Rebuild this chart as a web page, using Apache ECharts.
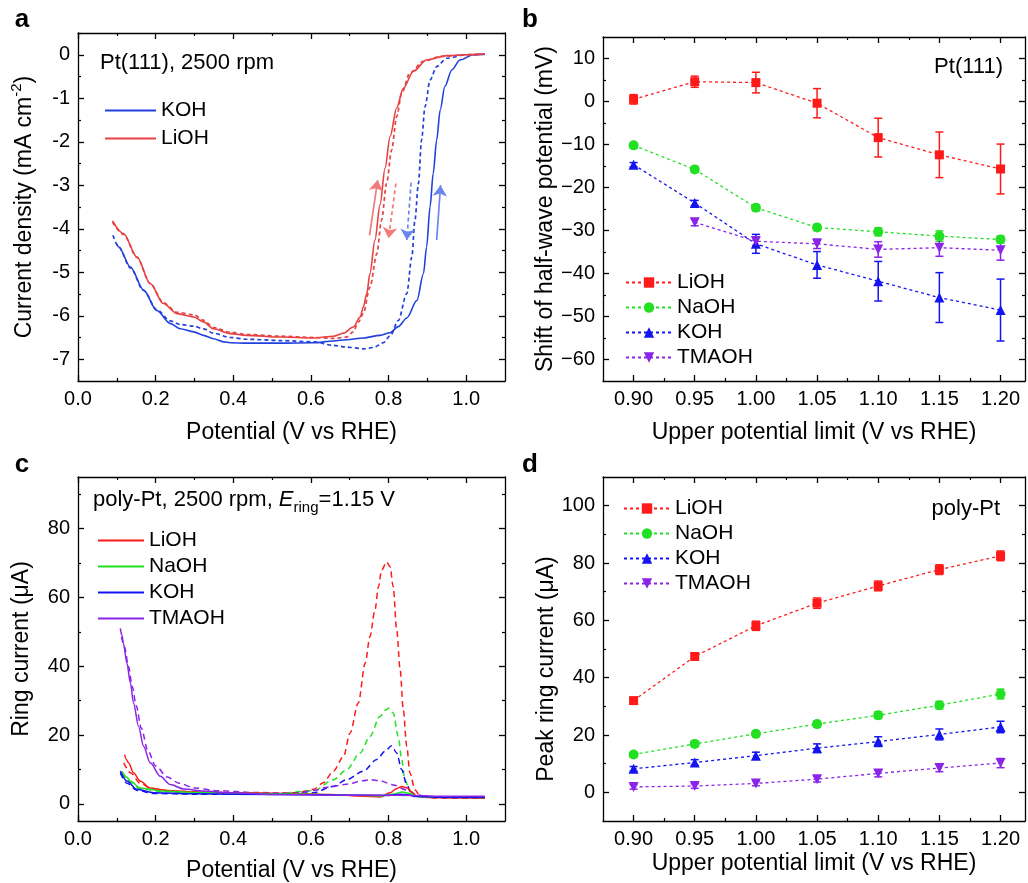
<!DOCTYPE html>
<html><head><meta charset="utf-8">
<script src="https://cdn.jsdelivr.net/npm/echarts@6/dist/echarts.min.js"></script>
<style>html,body{margin:0;padding:0;background:#fff}#c{width:1028px;height:883px}</style>
</head><body><div id="c"></div>
<script>
const FONT = '"Liberation Sans", Arial, Helvetica, sans-serif';

// ---------- Panel a: Pt(111) CVs (V, mA cm-2) ----------
const aKOHsolid = [[0.100,-4.35],[0.105,-4.42],[0.135,-4.88],[0.169,-5.41],[0.203,-5.88],[0.238,-6.18],[0.263,-6.30],[0.298,-6.37],[0.323,-6.45],[0.349,-6.53],[0.375,-6.60],[0.392,-6.62],[0.435,-6.63],[0.521,-6.63],[0.607,-6.62],[0.658,-6.58],[0.692,-6.55],[0.735,-6.51],[0.778,-6.45],[0.804,-6.39],[0.825,-6.25],[0.847,-6.05],[0.873,-5.65],[0.890,-5.03],[0.898,-4.42],[0.907,-3.49],[0.915,-2.73],[0.924,-1.96],[0.933,-1.27],[0.945,-0.73],[0.963,-0.35],[0.984,-0.12],[1.018,0.0],[1.048,0.02]];
const aKOHdash = [[0.090,-4.15],[0.105,-4.42],[0.135,-4.90],[0.169,-5.42],[0.203,-5.86],[0.238,-6.12],[0.263,-6.20],[0.298,-6.24],[0.323,-6.30],[0.349,-6.40],[0.392,-6.50],[0.435,-6.54],[0.521,-6.57],[0.607,-6.60],[0.658,-6.68],[0.692,-6.72],[0.735,-6.76],[0.761,-6.73],[0.787,-6.62],[0.805,-6.45],[0.825,-6.11],[0.847,-5.49],[0.860,-4.65],[0.868,-3.80],[0.877,-2.96],[0.885,-1.96],[0.894,-1.19],[0.907,-0.58],[0.924,-0.27],[0.950,-0.08],[1.001,0.0],[1.048,0.01]];
const aLiOHsolid = [[0.089,-3.82],[0.117,-4.11],[0.152,-4.65],[0.186,-5.26],[0.220,-5.72],[0.255,-5.95],[0.298,-6.03],[0.323,-6.14],[0.349,-6.30],[0.392,-6.41],[0.435,-6.45],[0.521,-6.49],[0.607,-6.51],[0.658,-6.47],[0.684,-6.40],[0.709,-6.26],[0.727,-6.03],[0.735,-5.80],[0.744,-5.49],[0.752,-5.03],[0.765,-4.26],[0.778,-3.45],[0.791,-2.61],[0.804,-1.88],[0.821,-1.22],[0.838,-0.77],[0.864,-0.38],[0.898,-0.12],[0.950,-0.02],[1.001,0.0],[1.048,0.02]];
const aLiOHdash = [[0.089,-3.85],[0.117,-4.13],[0.152,-4.66],[0.186,-5.26],[0.220,-5.70],[0.255,-5.92],[0.298,-5.98],[0.323,-6.10],[0.349,-6.27],[0.392,-6.38],[0.435,-6.43],[0.521,-6.47],[0.607,-6.50],[0.658,-6.52],[0.692,-6.49],[0.709,-6.37],[0.722,-6.15],[0.735,-5.95],[0.752,-5.34],[0.770,-4.57],[0.782,-3.80],[0.795,-2.96],[0.808,-2.19],[0.821,-1.42],[0.834,-0.88],[0.855,-0.42],[0.890,-0.15],[0.933,-0.04],[1.000,0.0],[1.048,0.02]];
// sweep-direction arrows (data coords: start, end)
const aArrowLiSolid = [[0.751,-4.15],[0.772,-2.88]];
const aArrowLiDash  = [[0.819,-2.96],[0.800,-4.22]];
const aArrowKDash   = [[0.858,-2.94],[0.847,-4.26]];
const aArrowKSolid  = [[0.924,-4.26],[0.934,-3.00]];
const aXTickVals = [0,0.2,0.4,0.6,0.8,1.0];
const aXTickLabels = ['0.0','0.2','0.4','0.6','0.8','1.0'];
const aXMinor = [0.1,0.3,0.5,0.7,0.9];
const aYTickVals = [0,-1,-2,-3,-4,-5,-6,-7];
const aYTickLabels = ['0','-1','-2','-3','-4','-5','-6','-7'];
const aYMinor = [0.5,-0.5,-1.5,-2.5,-3.5,-4.5,-5.5,-6.5];

// ---------- Panel b: shift of half-wave potential (mV) ----------
const bX = [0.90,0.95,1.00,1.05,1.10,1.15,1.20];
const bLiOH = [0.5,4.6,4.4,-0.4,-8.4,-12.4,-15.7];
const bLiOHerr = [1.1,1.3,2.4,3.4,4.5,5.3,5.8];
const bNaOH = [-10.2,-15.8,-24.7,-29.3,-30.3,-31.3,-32.1];
const bNaOHerr = [0.6,0.7,0.7,0.7,0.9,1.2,0.8];
const bKOH = [-14.7,-23.6,-33.1,-38.0,-41.8,-45.6,-48.5];
const bKOHerr = [0.5,0.6,2.2,3.1,4.6,5.8,7.2];
const bTMAOH = [null,-28.1,-32.5,-33.1,-34.4,-34.0,-34.6];
const bTMAOHerr = [null,0.8,1.0,1.1,1.8,2.0,2.3];
const bXTickVals = [0.90,0.95,1.00,1.05,1.10,1.15,1.20];
const bXTickLabels = ['0.90','0.95','1.00','1.05','1.10','1.15','1.20'];
const bXMinor = [0.925,0.975,1.025,1.075,1.125,1.175];
const bYTickVals = [10,0,-10,-20,-30,-40,-50,-60];
const bYTickLabels = ['10','0','\u221210','\u221220','\u221230','\u221240','\u221250','\u221260'];
const bYMinor = [5,-5,-15,-25,-35,-45,-55];

// ---------- Panel c: ring current (uA) ----------
const cLiOHsolid = [[0.120,14.3],[0.125,12.8],[0.130,11.9],[0.143,9.0],[0.160,6.6],[0.186,4.6],[0.229,3.9],[0.306,3.4],[0.435,3.2],[0.564,3.0],[0.649,2.7],[0.735,2.2],[0.778,2.0],[0.804,3.2],[0.820,4.4],[0.834,5.0],[0.848,4.6],[0.860,3.4],[0.872,2.2],[0.907,1.8],[1.048,1.7]];
const cLiOHdash = [[0.118,11.9],[0.135,9.0],[0.160,6.0],[0.190,4.4],[0.250,3.6],[0.350,3.2],[0.450,3.0],[0.564,3.2],[0.607,4.2],[0.632,6.1],[0.658,9.5],[0.684,13.8],[0.701,20.6],[0.722,29.3],[0.740,40.9],[0.752,48.6],[0.765,56.3],[0.774,63.1],[0.782,67.9],[0.795,70.3],[0.804,68.9],[0.812,63.1],[0.821,50.5],[0.830,38.9],[0.838,27.3],[0.847,16.7],[0.855,9.0],[0.868,4.1],[0.881,2.2],[0.920,1.7],[1.048,1.6]];
const cNaOHsolid = [[0.113,9.5],[0.125,7.8],[0.135,6.6],[0.160,4.6],[0.220,3.7],[0.300,3.3],[0.450,3.0],[0.600,2.8],[0.720,2.5],[0.780,2.3],[0.810,2.8],[0.835,3.4],[0.855,3.0],[0.872,2.2],[0.920,1.9],[1.048,1.8]];
const cNaOHdash = [[0.113,9.0],[0.135,6.3],[0.160,4.4],[0.220,3.5],[0.350,3.1],[0.500,2.9],[0.607,3.8],[0.658,7.0],[0.692,9.9],[0.727,14.8],[0.752,19.6],[0.778,25.4],[0.791,27.2],[0.801,27.8],[0.812,26.4],[0.825,19.6],[0.834,12.8],[0.842,7.0],[0.855,3.7],[0.872,2.2],[0.920,1.8],[1.048,1.7]];
const cKOHsolid = [[0.109,9.5],[0.126,6.6],[0.152,4.2],[0.195,3.2],[0.300,2.9],[0.500,2.7],[0.700,2.5],[0.800,2.4],[0.830,2.8],[0.850,2.6],[0.870,2.1],[0.950,1.9],[1.048,1.9]];
const cKOHdash = [[0.109,9.0],[0.126,6.0],[0.152,3.9],[0.195,3.0],[0.300,2.8],[0.500,2.8],[0.607,3.2],[0.658,5.1],[0.692,7.0],[0.735,9.5],[0.770,12.9],[0.791,15.3],[0.808,16.9],[0.821,14.8],[0.834,9.9],[0.847,5.5],[0.859,3.1],[0.872,2.2],[0.950,1.8],[1.048,1.7]];
const cTMAOHsolid = [[0.109,51.0],[0.113,49.0],[0.117,46.7],[0.126,40.9],[0.135,35.1],[0.143,29.3],[0.156,22.5],[0.169,16.7],[0.186,11.9],[0.212,8.0],[0.238,5.6],[0.272,4.3],[0.323,3.7],[0.392,3.2],[0.521,2.7],[0.649,2.5],[0.778,2.5],[0.864,2.4],[0.950,2.2],[1.048,2.2]];
const cTMAOHdash = [[0.112,48.5],[0.120,45.5],[0.130,40.0],[0.140,34.0],[0.150,28.5],[0.163,22.0],[0.180,15.5],[0.200,11.0],[0.230,7.8],[0.260,6.0],[0.300,4.6],[0.360,3.8],[0.450,3.3],[0.560,3.0],[0.606,3.9],[0.649,4.9],[0.692,5.7],[0.735,6.7],[0.752,7.0],[0.778,6.7],[0.812,5.5],[0.847,4.0],[0.872,2.6],[0.907,2.0],[1.048,1.9]];
const cYTickVals = [0,20,40,60,80];
const cYTickLabels = ['0','20','40','60','80'];
const cYMinor = [10,30,50,70,90];

// ---------- Panel d: peak ring current (uA) ----------
const dLiOH = [32.0,47.4,58.1,66.0,72.0,77.7,82.5];
const dLiOHerr = [0.8,0.8,1.6,1.8,1.7,1.7,1.7];
const dNaOH = [13.2,16.9,20.4,23.8,26.9,30.4,34.3];
const dNaOHerr = [0.8,0.9,0.9,1.0,1.2,1.3,1.7];
const dKOH = [8.2,10.4,12.8,15.4,17.7,20.2,22.8];
const dKOHerr = [0.8,1.0,1.2,1.5,1.7,1.9,2.0];
const dTMAOH = [1.9,2.2,3.1,4.6,6.6,8.5,10.2];
const dTMAOHerr = [0.8,0.8,0.8,1.0,1.2,1.3,1.6];
const dYTickVals = [0,20,40,60,80,100];
const dYTickLabels = ['0','20','40','60','80','100'];
const dYMinor = [10,30,50,70,90];

// ---------- colours ----------
const C_A_BLUE = '#2240de', C_A_RED = '#e84141';
const C_A_BLUE_ARROW = '#6b86ec', C_A_RED_ARROW = '#f07b7b';
const C = {LiOH:'#ff1a1a', NaOH:'#22e022', KOH:'#1414f0', TMAOH:'#8a24e8'};

// ---------- builders ----------
const grids = [], xAxes = [], yAxes = [];
function fmtFrom(vals, labels){
  return v => { const i = vals.findIndex(t => Math.abs(t - v) < 1e-7); return i < 0 ? '' : labels[i]; };
}
function mainAxis(grid, pos, spec, primary){
  const o = {
    type:'value', gridIndex:grid, position:pos, min:spec.min, max:spec.max,
    axisLine:{show:true, onZero:false, lineStyle:{color:'#000', width:1.3}},
    axisTick:{show:true, inside:true, length:6, customValues:spec.major, lineStyle:{color:'#000', width:1.3}},
    axisLabel: primary ? {show:true, customValues:spec.major, formatter:fmtFrom(spec.major, spec.labels), fontSize:20, color:'#000', fontFamily:FONT, margin:8} : {show:false},
    splitLine:{show:false}
  };
  if (primary && spec.name){
    o.name = spec.name; o.nameLocation = 'middle'; o.nameGap = spec.nameGap;
    o.nameTextStyle = {fontSize:23, color:'#000', fontFamily:FONT, rich: spec.rich || undefined, padding: spec.namePad || 0};
  }
  return o;
}
function minorAxis(grid, pos, spec){
  return {type:'value', gridIndex:grid, position:pos, min:spec.min, max:spec.max,
    axisLine:{show:false, onZero:false},
    axisTick:{show:true, inside:true, length:3, customValues:spec.minor, lineStyle:{color:'#000', width:1.2}},
    axisLabel:{show:false}, splitLine:{show:false}};
}
function addPanel(rect, xs, ys){
  const gMain = grids.length; grids.push(Object.assign({outerBoundsMode:'none', containLabel:false}, rect));
  const gMinor = grids.length; grids.push(Object.assign({outerBoundsMode:'none', containLabel:false}, rect));
  const xi = xAxes.length;
  xAxes.push(mainAxis(gMain,'bottom',xs,true), mainAxis(gMain,'top',xs,false), minorAxis(gMinor,'bottom',xs), minorAxis(gMinor,'top',xs));
  const yi = yAxes.length;
  yAxes.push(mainAxis(gMain,'left',ys,true), mainAxis(gMain,'right',ys,false), minorAxis(gMinor,'left',ys), minorAxis(gMinor,'right',ys));
  return {xi, yi};
}

const pA = addPanel({left:78, top:33, width:427, height:348},
  {min:0, max:1.1, major:aXTickVals, labels:aXTickLabels, minor:aXMinor, name:'Potential (V vs RHE)', nameGap:40},
  {min:-7.5, max:0.5, major:aYTickVals, labels:aYTickLabels, minor:aYMinor, name:'{t|Current density (mA cm}{s|-2}{t|)}', nameGap:42,
   rich:{t:{fontSize:23, fontFamily:FONT, color:'#000', lineHeight:27, verticalAlign:'bottom'}, s:{fontSize:15, fontFamily:FONT, color:'#000', lineHeight:15, verticalAlign:'top'}}});
const pB = addPanel({left:603, top:37, width:422, height:344},
  {min:0.875, max:1.22, major:bXTickVals, labels:bXTickLabels, minor:bXMinor, name:'Upper potential limit (V vs RHE)', nameGap:40},
  {min:-65, max:15, major:bYTickVals, labels:bYTickLabels, minor:bYMinor, name:'Shift of half-wave potential (mV)', nameGap:45});
const pC = addPanel({left:78, top:477, width:427, height:344},
  {min:0, max:1.1, major:aXTickVals, labels:aXTickLabels, minor:aXMinor, name:'Potential (V vs RHE)', nameGap:38},
  {min:-5, max:95, major:cYTickVals, labels:cYTickLabels, minor:cYMinor, name:'Ring current (\u03bcA)', nameGap:45});
const pD = addPanel({left:603, top:477, width:422, height:344},
  {min:0.875, max:1.22, major:bXTickVals, labels:bXTickLabels, minor:bXMinor, name:'Upper potential limit (V vs RHE)', nameGap:31},
  {min:-10, max:110, major:dYTickVals, labels:dYTickLabels, minor:dYMinor, name:'Peak ring current (\u03bcA)', nameGap:45, namePad:[0,40,0,0]});

const series = [];
function curve(p, name, data, color, dashed, dash, width){
  series.push({name, type:'line', xAxisIndex:p.xi, yAxisIndex:p.yi, data, symbol:'none', showSymbol:false,
    smooth:0.3, smoothMonotone:'x', silent:true, animation:false,
    itemStyle:{color}, lineStyle:{color, width:width||1.6, type: dashed ? dash : 'solid'}, z:2});
}
function arrow(p, coords, color, dashed){
  series.push({type:'lines', coordinateSystem:'cartesian2d', xAxisIndex:p.xi, yAxisIndex:p.yi, silent:true,
    symbol:['none','arrow'], symbolSize:11, animation:false,
    lineStyle:{color, width:1.7, opacity:1, type: dashed ? [4,3] : 'solid'},
    data:[{coords}] , z:3});
}
function errRender(color){
  return function(params, api){
    const x = api.value(0), y = api.value(1), e = api.value(2);
    const hi = api.coord([x, y + e]), lo = api.coord([x, y - e]);
    const cap = 4, st = {stroke:color, lineWidth:1.5};
    return {type:'group', children:[
      {type:'line', shape:{x1:hi[0], y1:hi[1], x2:lo[0], y2:lo[1]}, style:st},
      {type:'line', shape:{x1:hi[0]-cap, y1:hi[1], x2:hi[0]+cap, y2:hi[1]}, style:st},
      {type:'line', shape:{x1:lo[0]-cap, y1:lo[1], x2:lo[0]+cap, y2:lo[1]}, style:st}
    ]};
  };
}
function points(p, name, xs, vals, errs, color, symbol, size, rot){
  const data = [], edata = [];
  xs.forEach((x, i) => { if (vals[i] != null){ data.push([x, vals[i]]); if (errs[i] != null) edata.push([x, vals[i], errs[i]]); } });
  series.push({type:'custom', xAxisIndex:p.xi, yAxisIndex:p.yi, renderItem:errRender(color), data:edata, silent:true, animation:false, z:2, encode:{x:0, y:1}});
  series.push({name, type:'line', xAxisIndex:p.xi, yAxisIndex:p.yi, data, symbol, symbolSize:size, symbolRotate:rot||0, showSymbol:true,
    silent:true, animation:false, itemStyle:{color, opacity:1}, lineStyle:{color, width:1.3, type:[3,3]}, z:3});
}

// panel a
curve(pA, 'KOH_a_d', aKOHdash, C_A_BLUE, true, [4,3], 1.7);
curve(pA, 'KOH_a', aKOHsolid, C_A_BLUE, false);
curve(pA, 'LiOH_a_d', aLiOHdash, C_A_RED, true, [4,3], 1.7);
curve(pA, 'LiOH_a', aLiOHsolid, C_A_RED, false);
arrow(pA, aArrowLiSolid, C_A_RED_ARROW, false);
arrow(pA, aArrowLiDash, C_A_RED_ARROW, true);
arrow(pA, aArrowKDash, C_A_BLUE_ARROW, true);
arrow(pA, aArrowKSolid, C_A_BLUE_ARROW, false);

// panel b
points(pB, 'LiOH_b', bX, bLiOH, bLiOHerr, C.LiOH, 'rect', 9);
points(pB, 'NaOH_b', bX, bNaOH, bNaOHerr, C.NaOH, 'circle', 10);
points(pB, 'KOH_b', bX, bKOH, bKOHerr, C.KOH, 'triangle', 10);
points(pB, 'TMAOH_b', bX, bTMAOH, bTMAOHerr, C.TMAOH, 'triangle', 10, 180);

// panel c
curve(pC, 'LiOH_c_d', cLiOHdash, C.LiOH, true, [6,4], 1.5);
curve(pC, 'NaOH_c_d', cNaOHdash, C.NaOH, true, [6,4], 1.5);
curve(pC, 'KOH_c_d', cKOHdash, C.KOH, true, [6,4], 1.5);
curve(pC, 'TMAOH_c_d', cTMAOHdash, C.TMAOH, true, [6,4], 1.5);
curve(pC, 'LiOH_c', cLiOHsolid, C.LiOH, false, null, 1.5);
curve(pC, 'NaOH_c', cNaOHsolid, C.NaOH, false, null, 1.5);
curve(pC, 'KOH_c', cKOHsolid, C.KOH, false, null, 1.5);
curve(pC, 'TMAOH_c', cTMAOHsolid, C.TMAOH, false, null, 1.5);

// panel d
points(pD, 'LiOH_d', bX, dLiOH, dLiOHerr, C.LiOH, 'rect', 9);
points(pD, 'NaOH_d', bX, dNaOH, dNaOHerr, C.NaOH, 'circle', 10);
points(pD, 'KOH_d', bX, dKOH, dKOHerr, C.KOH, 'triangle', 10);
points(pD, 'TMAOH_d', bX, dTMAOH, dTMAOHerr, C.TMAOH, 'triangle', 10, 180);

const strip = n => n.split('_')[0];
const legTxt = {fontSize:21, color:'#000', fontFamily:FONT};
const legends = [
  {data:['KOH_a','LiOH_a'], left:100, top:95, orient:'vertical', icon:'rect', itemWidth:51, itemHeight:2, itemGap:7, formatter:strip, textStyle:legTxt, selectedMode:false},
  {data:['LiOH_b','NaOH_b','KOH_b','TMAOH_b'], left:620, top:267, orient:'vertical', itemWidth:46, itemHeight:13, itemGap:4, formatter:strip, textStyle:legTxt, selectedMode:false},
  {data:['LiOH_c','NaOH_c','KOH_c','TMAOH_c'], left:93, top:525, orient:'vertical', icon:'rect', itemWidth:46, itemHeight:2, itemGap:5, formatter:strip, textStyle:legTxt, selectedMode:false},
  {data:['LiOH_d','NaOH_d','KOH_d','TMAOH_d'], left:618, top:493, orient:'vertical', itemWidth:46, itemHeight:13, itemGap:4, formatter:strip, textStyle:legTxt, selectedMode:false}
];

function label(x, y, text, align, size, weight){
  return {type:'text', x, y, silent:true, style:{text, fill:'#000', font:(weight||'normal')+' '+size+'px '+FONT, align, verticalAlign:'middle'}};
}
const graphics = [
  label(22, 20, 'a', 'center', 26, 'bold'),
  label(530, 20, 'b', 'center', 26, 'bold'),
  label(22, 465, 'c', 'center', 26, 'bold'),
  label(530, 465, 'd', 'center', 26, 'bold'),
  label(100, 63, 'Pt(111), 2500 rpm', 'left', 22),
  label(1003, 67, 'Pt(111)', 'right', 22),
  label(1000, 509, 'poly-Pt', 'right', 22),
  {type:'text', x:93, y:500, silent:true, style:{
    text:'{n|poly-Pt, 2500 rpm, }{i|E}{s|ring}{n|=1.15 V}', align:'left', verticalAlign:'middle',
    rich:{n:{fontSize:22, fontFamily:FONT, fill:'#000', lineHeight:30, verticalAlign:'middle'},
          i:{fontSize:22, fontFamily:FONT, fontStyle:'italic', fill:'#000', lineHeight:30, verticalAlign:'middle'},
          s:{fontSize:15, fontFamily:FONT, fill:'#000', lineHeight:15, verticalAlign:'bottom'}}}}
];

const chart = echarts.init(document.getElementById('c'), null, {renderer:'canvas'});
chart.setOption({
  animation:false, backgroundColor:'#fff',
  textStyle:{fontFamily:FONT},
  grid:grids, xAxis:xAxes, yAxis:yAxes, series, legend:legends, graphic:graphics
});
</script></body></html>
